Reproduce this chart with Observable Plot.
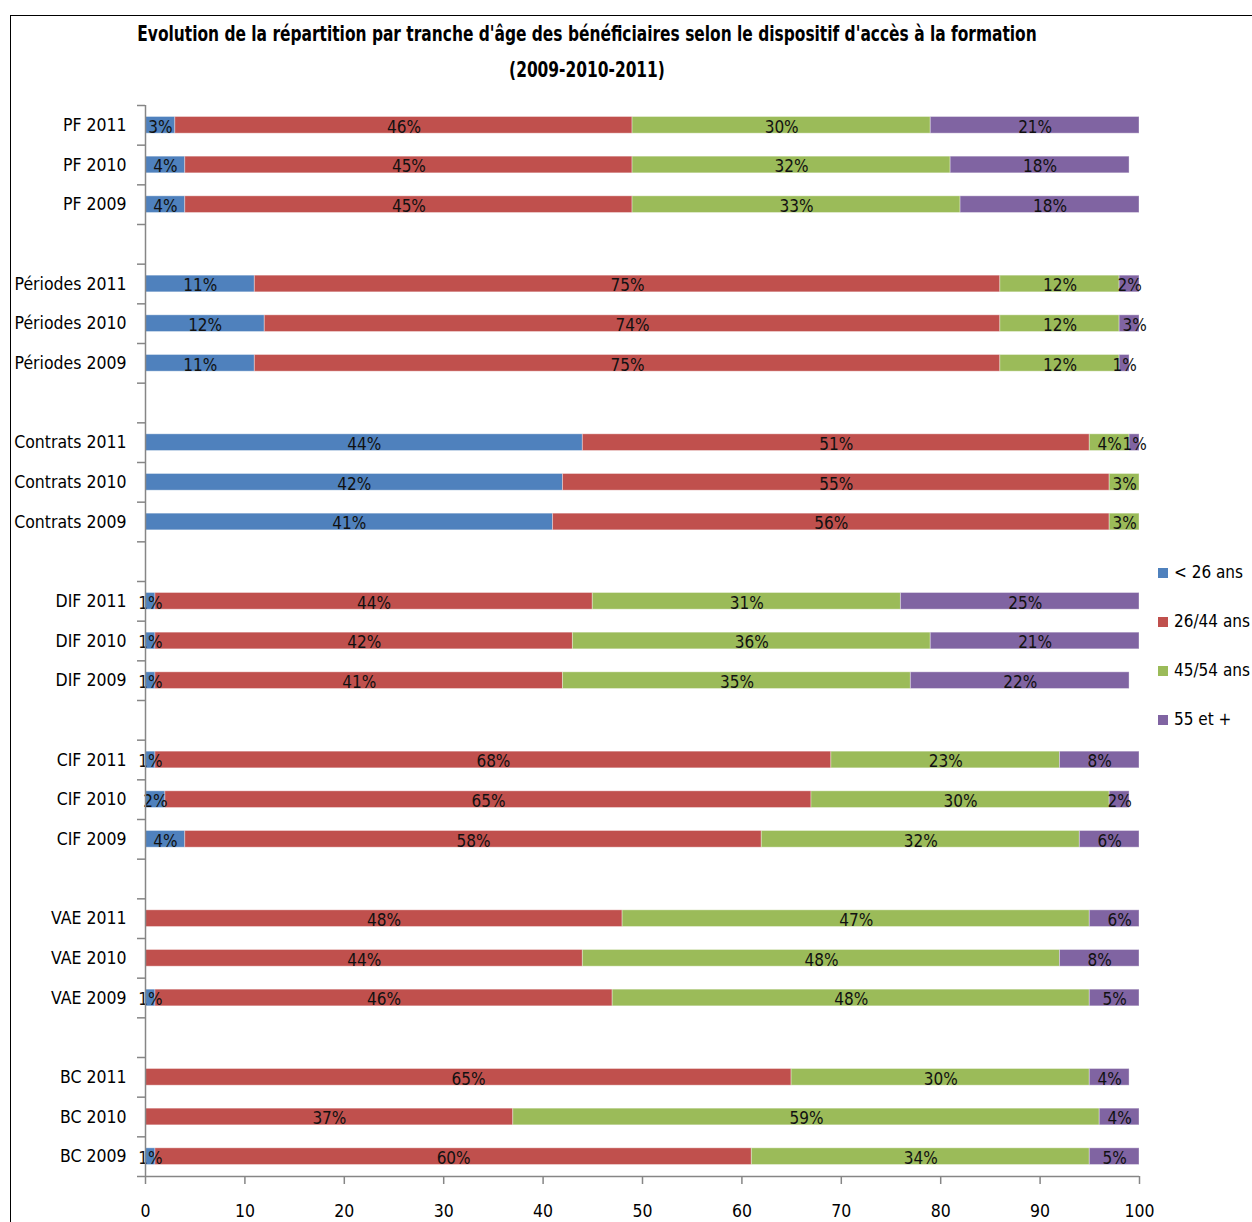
<!DOCTYPE html>
<html>
<head>
<meta charset="utf-8">
<script src="https://cdn.jsdelivr.net/npm/d3@7"></script>
<script src="https://cdn.jsdelivr.net/npm/@observablehq/plot@0.6"></script>
<style>
  html, body { margin: 0; padding: 0; background: #fff; overflow: hidden; }
  body { width: 1252px; height: 1222px; position: relative; font-family: "DejaVu Sans Condensed", "Liberation Sans Narrow", sans-serif; }
  #frame { position: absolute; left: 10px; top: 15px; width: 1300px; height: 1300px; border-left: 1.5px solid #000; border-top: 1.5px solid #000; box-sizing: border-box; }
  .title { position: absolute; left: 587px; font-weight: bold; font-size: 22px; color: #000; white-space: nowrap; transform: translateX(-50%) scaleX(0.78); transform-origin: center; }
  #chart { position: absolute; left: 0; top: 90px; }
  #legend { position: absolute; left: 1158px; top: 562px; font-size: 17px; color: #000; }
  #legend .item { height: 49px; display: flex; align-items: flex-start; white-space: nowrap; }
  #legend .sw { width: 10px; height: 10px; margin-top: 6px; margin-right: 6px; }
</style>
</head>
<body>
<div id="frame"></div>
<div class="title" style="top:21px">Evolution de la répartition par tranche d'âge des bénéficiaires selon le dispositif d'accès à la formation</div>
<div class="title" style="top:57px">(2009-2010-2011)</div>
<div id="chart"></div>
<div id="legend"></div>
<script>
const rowLabels = ["PF 2011","PF 2010","PF 2009","Périodes 2011","Périodes 2010","Périodes 2009","Contrats 2011","Contrats 2010","Contrats 2009","DIF 2011","DIF 2010","DIF 2009","CIF 2011","CIF 2010","CIF 2009","VAE 2011","VAE 2010","VAE 2009","BC 2011","BC 2010","BC 2009"];
const ageGroups = ["< 26 ans","26/44 ans","45/54 ans","55 et +"];
const under26  = [3,4,4,11,12,11,44,42,41,1,1,1,1,2,4,0,0,1,0,0,1];
const age26_44 = [46,45,45,75,74,75,51,55,56,44,42,41,68,65,58,48,44,46,65,37,60];
const age45_54 = [30,32,33,12,12,12,4,3,3,31,36,35,23,30,32,47,48,48,30,59,34];
const age55    = [21,18,18,2,3,1,1,0,0,25,21,22,8,2,6,6,8,5,4,4,5];
const xTicks = [0,10,20,30,40,50,60,70,80,90,100];
const colors = ["#4F81BD","#C0504D","#9BBB59","#8064A2"];

const series = [under26, age26_44, age45_54, age55];
const groupSize = 3;
// one blank slot between consecutive groups
const nSlots = rowLabels.length + rowLabels.length / groupSize - 1;
const segments = [];
rowLabels.forEach((label, r) => {
  const slot = r + Math.floor(r / groupSize);
  let acc = 0;
  series.forEach((s, k) => {
    const v = s[r];
    segments.push({row: label, slot, age: ageGroups[k], value: v, x1: acc, x2: acc + v});
    acc += v;
  });
});
const labelBySlot = new Map(rowLabels.map((l, r) => [r + Math.floor(r / groupSize) + 0.5, l]));

const font = '"DejaVu Sans Condensed", "Liberation Sans Narrow", sans-serif';
const axisGray = "#868686";

const chart = Plot.plot({
  width: 1252,
  height: 1132,
  marginTop: 15,
  marginBottom: 46,
  marginLeft: 145,
  marginRight: 113,
  style: {fontFamily: font, fontSize: "17px", color: "#000", background: "transparent"},
  x: {domain: [0, 100], clamp: true},
  y: {domain: [nSlots, 0]},
  color: {domain: ageGroups, range: colors},
  marks: [
    Plot.rectX(segments.filter(d => d.value > 0), {
      x1: "x1", x2: "x2",
      y1: d => d.slot + 0.29, y2: d => d.slot + 0.71,
      fill: "age", stroke: "#fff", strokeOpacity: 0.35, strokeWidth: 1
    }),
    Plot.text(segments.filter(d => d.value > 0), {
      x: d => (d.x1 + d.x2) / 2,
      y: d => d.slot + 0.5,
      text: d => d.value + "%",
      fill: "#111", fontSize: 17, dy: 2
    }),
    Plot.ruleX([0], {stroke: axisGray, strokeWidth: 1.5}),
    Plot.ruleY([nSlots], {stroke: axisGray, strokeWidth: 1.5}),
    Plot.axisY({ticks: d3.range(nSlots + 1), tickSize: 8, tickFormat: () => "", stroke: axisGray, strokeWidth: 1.5}),
    Plot.axisY({ticks: [...labelBySlot.keys()], tickSize: 0, tickPadding: 19, tickFormat: t => labelBySlot.get(t), fontSize: 17.5, fill: "#000"}),
    Plot.axisX({ticks: xTicks, tickSize: 8, tickPadding: 20, stroke: axisGray, strokeWidth: 1.5, fontSize: 17.5, fill: "#000", label: null})
  ]
});
document.getElementById("chart").appendChild(chart);

const legend = document.getElementById("legend");
ageGroups.forEach((g, k) => {
  const item = document.createElement("div");
  item.className = "item";
  const sw = document.createElement("span");
  sw.className = "sw";
  sw.style.background = colors[k];
  const tx = document.createElement("span");
  tx.textContent = g;
  item.appendChild(sw);
  item.appendChild(tx);
  legend.appendChild(item);
});
</script>
</body>
</html>
